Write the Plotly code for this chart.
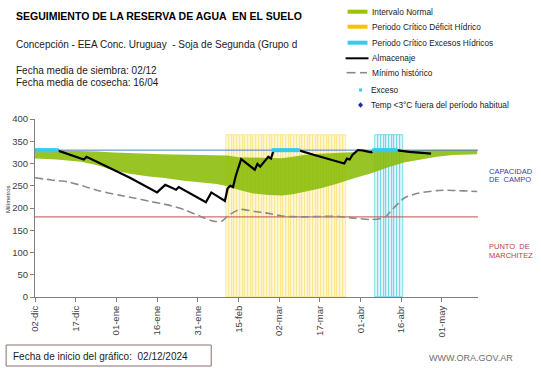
import plotly.graph_objects as go
import pandas as pd

START = pd.Timestamp("2024-12-02")
AXIS_END_DAY = 163.3

# ---- data (days counted from 02/12/2024) ----
normal_days = [0, 8, 17, 23, 29, 35, 42, 47, 55, 61, 67, 71, 75, 80, 86, 91, 95, 99, 105, 111, 117, 124, 130, 136, 142, 148, 154, 160, 163]
normal_low = [311, 309, 304, 296, 285, 277, 271, 268, 261, 257, 254, 249, 241, 233, 229, 228, 231, 236, 244, 254, 266, 278, 291, 302, 309, 315, 319, 320, 321]
normal_high = [331, 330, 328, 327, 325, 323, 322, 321, 320, 320, 319, 318, 314, 313, 312, 312, 315, 319, 322, 324, 326, 328, 329, 330, 331, 331, 331, 331, 331]

stor_days = [0, 8, 18, 19, 35, 45, 48, 52, 53, 63, 65, 70, 71, 72, 73, 74, 76, 81, 82, 83, 86, 87, 88, 97, 103, 108, 114, 115, 116, 117, 119, 121, 124, 125, 133, 138, 146]
stor_vals = [330, 330, 309, 315, 268, 235, 252, 241, 247, 213, 235, 216, 244, 250, 247, 272, 310, 286, 299, 293, 315, 311, 330, 330, 319, 311, 300, 311, 309, 319, 330, 329, 325, 330, 330, 326, 322]

min_days = [0, 6, 12, 18, 24, 31, 37, 43, 49, 55, 61, 66, 69, 71, 74, 76, 81, 86, 91, 99, 105, 112, 118, 124, 129, 131, 136, 141, 148, 152, 156, 160, 163]
min_vals = [268, 263, 259, 249, 238, 229, 222, 214, 207, 196, 181, 170, 171, 182, 193, 197, 192, 188, 182, 180, 181, 181, 177, 174, 179, 192, 222, 233, 239, 240, 239, 238, 237]

deficit_days = list(range(71, 115))   # Periodo critico deficit hidrico
excess_days = list(range(126, 136))   # Periodo critico excesos hidricos
period_bar_height = 365

exceso_days = [0, 1, 2, 3, 4, 5, 6, 7, 8, 88, 89, 90, 91, 92, 93, 94, 95, 96, 97,
               125, 126, 127, 128, 129, 130, 131, 132, 133]
exceso_val = 330

CAP_CAMPO = 330
PUNTO_MARCHITEZ = 180

tick_days = [0, 15, 30, 45, 60, 75, 90, 105, 120, 135, 150]
tick_labels = ["02-dic", "17-dic", "01-ene", "16-ene", "31-ene", "15-feb",
               "02-mar", "17-mar", "01-abr", "16-abr", "01-may"]


def dates(days):
    return [START + pd.Timedelta(days=float(v)) for v in days]


fig = go.Figure()

# critical period bars
fig.add_trace(go.Bar(x=dates(deficit_days), y=[period_bar_height] * len(deficit_days),
                     width=86400000, marker=dict(color="#FFF8D6", line=dict(color="#F6DE6A", width=0.6)),
                     showlegend=False, hoverinfo="skip"))
fig.add_trace(go.Bar(x=dates(excess_days), y=[period_bar_height] * len(excess_days),
                     width=86400000, marker=dict(color="#E2F6FB", line=dict(color="#3CC6E4", width=0.6)),
                     showlegend=False, hoverinfo="skip"))

# normal interval band
fig.add_trace(go.Scatter(x=dates(normal_days), y=normal_low, mode="lines",
                         line=dict(width=0, color="rgba(0,0,0,0)"), showlegend=False, hoverinfo="skip"))
fig.add_trace(go.Scatter(x=dates(normal_days), y=normal_high, mode="lines", fill="tonexty",
                         fillcolor="rgba(135,186,0,0.85)", line=dict(width=0, color="rgba(0,0,0,0)"),
                         showlegend=False))

# reference lines
fig.add_trace(go.Scatter(x=dates([0, AXIS_END_DAY]), y=[CAP_CAMPO, CAP_CAMPO], mode="lines",
                         line=dict(color="#4F7DC9", width=1), showlegend=False))
fig.add_trace(go.Scatter(x=dates([0, AXIS_END_DAY]), y=[PUNTO_MARCHITEZ, PUNTO_MARCHITEZ], mode="lines",
                         line=dict(color="#C0504D", width=1), showlegend=False))

# minimum historic
fig.add_trace(go.Scatter(x=dates(min_days), y=min_vals, mode="lines",
                         line=dict(color="#8A8A8A", width=1.6, dash="8px,4px", shape="spline", smoothing=0.6),
                         showlegend=False))

# storage
fig.add_trace(go.Scatter(x=dates(stor_days), y=stor_vals, mode="lines",
                         line=dict(color="#000000", width=2.2), showlegend=False))

# exceso markers
fig.add_trace(go.Scatter(x=dates(exceso_days), y=[exceso_val] * len(exceso_days), mode="markers",
                         marker=dict(symbol="square", size=4, color="#33CCEE", line=dict(width=0)),
                         showlegend=False))

# ---- layout helpers (pixel -> paper) ----
L, R, T, B = 33, 63, 119, 71
W, H = 541, 368
PW, PH = W - L - R, H - T - B


def px(xp):
    return (xp - L) / PW


def py(yp):
    return (H - B - yp) / PH


FONT = "Liberation Sans, Arial, sans-serif"
annotations = []
shapes = []


def text(xp, yp, s, size, color="#000000", anchor="left", angle=0):
    annotations.append(dict(x=px(xp), y=py(yp), xref="paper", yref="paper", text=s, showarrow=False,
                            xanchor=anchor, yanchor="middle", textangle=angle,
                            font=dict(family=FONT, size=size, color=color)))


text(12, 16, "<b>SEGUIMIENTO DE LA RESERVA DE AGUA  EN EL SUELO</b>", 10.5)
text(12, 44, "Concepción - EEA Conc. Uruguay  - Soja de Segunda (Grupo d", 10, "#1a1a1a")
text(12, 70, "Fecha media de siembra: 02/12", 10, "#1a1a1a")
text(12, 82, "Fecha media de cosecha: 16/04", 10, "#1a1a1a")

# legend (manual)
leg_y = [11.7, 26.7, 42.7, 58.3, 72.7, 90, 105]
leg_txt = ["Intervalo Normal", "Periodo Crítico Déficit Hídrico", "Periodo Crítico Excesos Hídricos",
           "Almacenaje", "Mínimo histórico", "Exceso", "Temp <3°C fuera del período habitual"]
sw_cols = ["#99C400", "#FFC000", "#33CCEE"]
for i in range(3):
    shapes.append(dict(type="rect", xref="paper", yref="paper", x0=px(347), x1=px(367),
                       y0=py(leg_y[i] + 2), y1=py(leg_y[i] - 2), fillcolor=sw_cols[i], line=dict(width=0)))
shapes.append(dict(type="line", xref="paper", yref="paper", x0=px(345), x1=px(368),
                   y0=py(leg_y[3]), y1=py(leg_y[3]), line=dict(color="#000000", width=2)))
shapes.append(dict(type="line", xref="paper", yref="paper", x0=px(346), x1=px(355),
                   y0=py(leg_y[4]), y1=py(leg_y[4]), line=dict(color="#8A8A8A", width=1.6)))
shapes.append(dict(type="line", xref="paper", yref="paper", x0=px(359.5), x1=px(366.5),
                   y0=py(leg_y[4]), y1=py(leg_y[4]), line=dict(color="#8A8A8A", width=1.6)))
shapes.append(dict(type="rect", xref="paper", yref="paper", x0=px(358.5), x1=px(361.5),
                   y0=py(leg_y[5] + 1.5), y1=py(leg_y[5] - 1.5), fillcolor="#33CCEE", line=dict(width=0)))
shapes.append(dict(type="path", xref="paper", yref="paper",
                   path="M {a},{b} L {c},{d} L {a},{e} L {f},{d} Z".format(
                       a=px(360), b=py(leg_y[6] - 2.8), c=px(362.5), d=py(leg_y[6]), e=py(leg_y[6] + 2.8), f=px(357.5)),
                   fillcolor="#1F2A99", line=dict(width=0)))
for i, s in enumerate(leg_txt):
    text(370 if i < 5 else 369, leg_y[i], s, 8.3, "#1a1a1a")

# right side labels
text(487, 171, "CAPACIDAD", 7.5, "#3A3AA8")
text(487, 179.5, "DE  CAMPO", 7.5, "#3A3AA8")
text(487, 246.5, "PUNTO  DE", 7.5, "#C23B3B")
text(487, 255, "MARCHITEZ", 7.5, "#C23B3B")

# y axis title
text(6, 199, "Milímetros", 6, "#333333", anchor="center", angle=-90)

# bottom box and footer
shapes.append(dict(type="rect", xref="paper", yref="paper", x0=px(4), x1=px(210), y0=py(366), y1=py(345),
                   line=dict(color="#8C6E6E", width=1), fillcolor="rgba(0,0,0,0)"))
text(9, 356, "Fecha de inicio del gráfico:  02/12/2024", 10, "#1a1a1a")
text(515, 358, "WWW.ORA.GOV.AR", 9, "#6E6E6E", anchor="right")

fig.update_layout(
    width=W, height=H,
    margin=dict(l=L, r=R, t=T, b=B, pad=0),
    paper_bgcolor="white", plot_bgcolor="white",
    barmode="overlay", bargap=0,
    showlegend=False,
    font=dict(family=FONT, size=9.5, color="#404040"),
    annotations=annotations, shapes=shapes,
    xaxis=dict(type="date", range=dates([0, AXIS_END_DAY]), tickvals=dates(tick_days), ticktext=tick_labels,
               tickangle=-90, ticks="outside", ticklen=4, tickcolor="#7F7F7F", showline=True,
               linecolor="#7F7F7F", linewidth=1, showgrid=False, zeroline=False,
               tickfont=dict(size=9.5, color="#404040")),
    yaxis=dict(range=[0, 400], dtick=50, ticks="outside", ticklen=4, tickcolor="#7F7F7F", showline=True,
               linecolor="#7F7F7F", linewidth=1, showgrid=False, zeroline=False,
               tickfont=dict(size=9.5, color="#404040")),
)

fig.write_html("out.html", config={"displayModeBar": False},
               post_script="document.body.style.margin='0px';document.body.style.padding='0px';")
